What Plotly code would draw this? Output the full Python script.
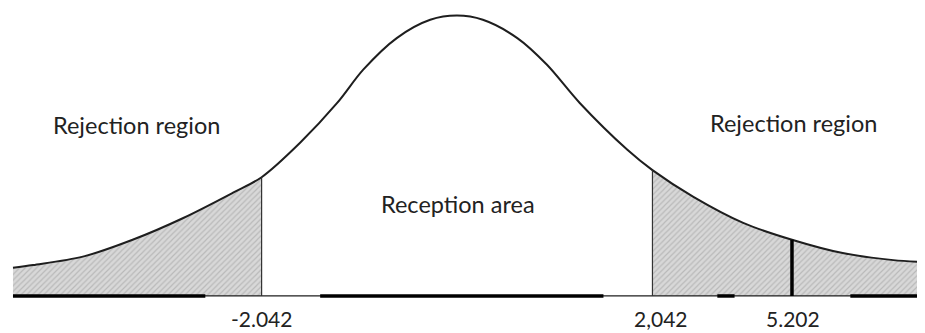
import plotly.graph_objects as go

# Curve (x in t-units, y as density-like height)
curve_x = [-4.64, -4.43, -3.91, -3.39, -2.86, -2.34, -2.042, -1.64, -1.25, -0.98, -0.63, -0.28, 0.0,
           0.27, 0.63, 0.94, 1.28, 1.78, 2.042, 2.47, 2.99, 3.50, 4.03, 4.56, 4.89]
curve_y = [0.040, 0.044, 0.056, 0.080, 0.111, 0.147, 0.169, 0.218, 0.275, 0.322, 0.367, 0.393, 0.399,
           0.393, 0.367, 0.329, 0.275, 0.208, 0.179, 0.141, 0.104, 0.080, 0.061, 0.051, 0.048]

critical_lo = -2.042
critical_hi = 2.042
crit_labels = ["-2.042", "2,042"]
stat_pos = 3.50
stat_label = "5.202"

region_labels = ["Rejection region", "Reception area", "Rejection region"]

# thick baseline segments
thick_start = [-4.64, -1.43, 2.72, 4.11]
thick_end = [-2.63, 1.53, 2.90, 4.89]

ink = "#1e1e1e"
fig = go.Figure()

pattern = dict(shape="/", bgcolor="#d8d8d8", fgcolor="#9a9a9a", size=4, solidity=0.3)

i_lo = curve_x.index(critical_lo)
i_hi = curve_x.index(critical_hi)
i_st = curve_x.index(stat_pos)

# tail fills
fig.add_trace(go.Scatter(x=curve_x[:i_lo + 1], y=curve_y[:i_lo + 1],
                         mode="none", fill="tozeroy", fillcolor="#d8d8d8",
                         fillpattern=pattern, line=dict(shape="spline", smoothing=0.9),
                         hoverinfo="skip"))
fig.add_trace(go.Scatter(x=curve_x[i_hi:], y=curve_y[i_hi:],
                         mode="none", fill="tozeroy", fillcolor="#d8d8d8",
                         fillpattern=pattern, line=dict(shape="spline", smoothing=0.9),
                         hoverinfo="skip"))

# curve
fig.add_trace(go.Scatter(x=curve_x, y=curve_y, mode="lines",
                         line=dict(color=ink, width=2, shape="spline", smoothing=0.9),
                         hoverinfo="skip"))

# baseline thin
fig.add_trace(go.Scatter(x=[curve_x[0], curve_x[-1]], y=[0, 0], mode="lines",
                         line=dict(color=ink, width=1.2), hoverinfo="skip"))
# baseline thick segments
for a, b in zip(thick_start, thick_end):
    fig.add_trace(go.Scatter(x=[a, b], y=[0, 0], mode="lines",
                             line=dict(color="#000", width=3.5), hoverinfo="skip"))

# vertical lines
fig.add_trace(go.Scatter(x=[critical_lo, critical_lo], y=[0, curve_y[i_lo]], mode="lines",
                         line=dict(color="#333", width=1.2), hoverinfo="skip"))
fig.add_trace(go.Scatter(x=[critical_hi, critical_hi], y=[0, curve_y[i_hi]], mode="lines",
                         line=dict(color="#333", width=1.2), hoverinfo="skip"))
fig.add_trace(go.Scatter(x=[stat_pos, stat_pos], y=[0, curve_y[i_st]], mode="lines",
                         line=dict(color="#000", width=3.5), hoverinfo="skip"))

font_txt = dict(family="Lato, Open Sans, sans-serif", size=23.5, color="#222")
font_lbl = dict(family="Lato, Open Sans, sans-serif", size=21, color="#222")
annos = [
    dict(x=-3.35, y=0.243, text=region_labels[0], font=font_txt),
    dict(x=0.01, y=0.131, text=region_labels[1], font=font_txt),
    dict(x=3.52, y=0.246, text=region_labels[2], font=font_txt),
    dict(x=critical_lo, y=-0.032, text=crit_labels[0], font=font_lbl),
    dict(x=2.13, y=-0.032, text=crit_labels[1], font=font_lbl),
    dict(x=3.51, y=-0.032, text=stat_label, font=font_lbl),
]
for a in annos:
    a.update(showarrow=False, xanchor="center", yanchor="middle")

# the page body has an 8px margin, so the figure is sized to end at the window edge
fig.update_layout(
    width=917, height=325,
    margin=dict(l=0, r=0, t=0, b=0),
    paper_bgcolor="white", plot_bgcolor="white",
    showlegend=False,
    xaxis=dict(range=[-4.692, 4.890], visible=False, fixedrange=True),
    yaxis=dict(range=[-0.0527, 0.4098], visible=False, fixedrange=True),
    annotations=annos,
)

fig.write_html("out.html")
